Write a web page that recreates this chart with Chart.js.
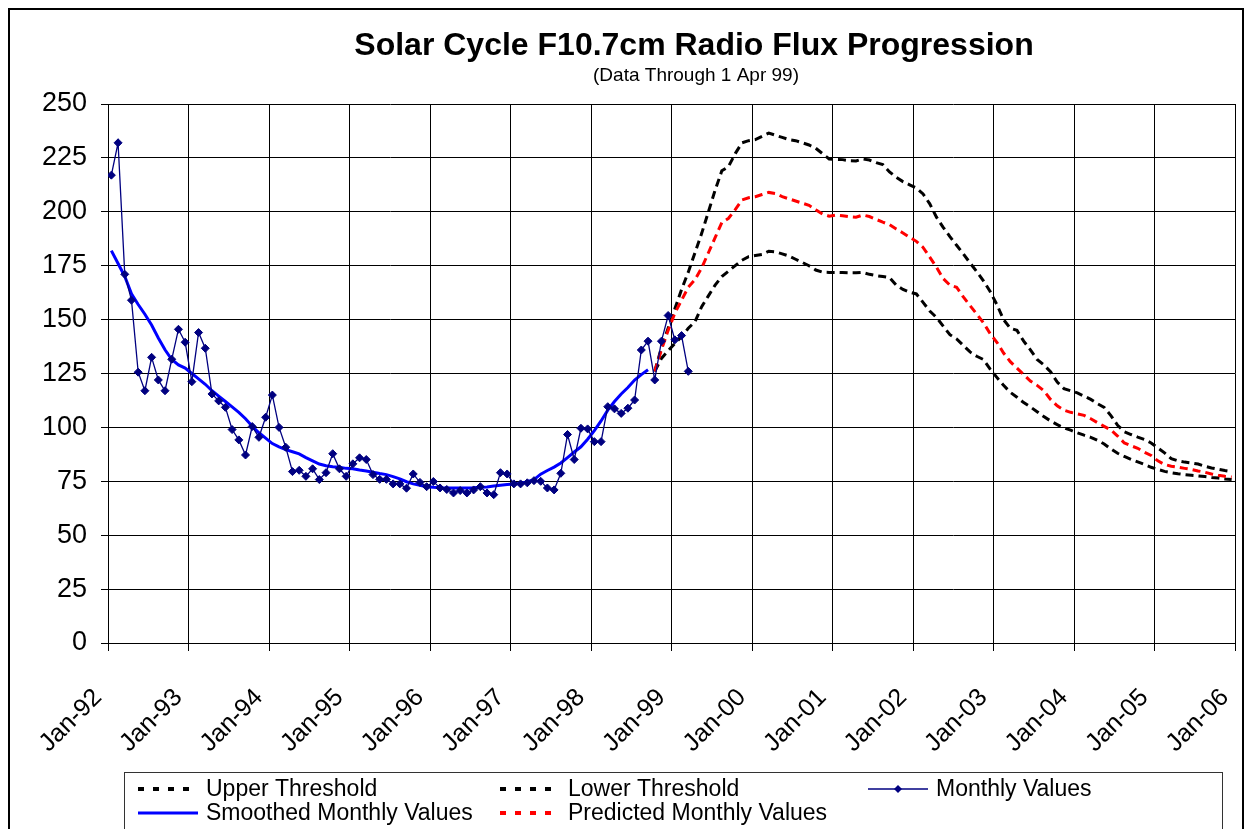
<!DOCTYPE html>
<html>
<head>
<meta charset="utf-8">
<title>Solar Cycle F10.7cm Radio Flux Progression</title>
<script src="https://cdn.jsdelivr.net/npm/chart.js@4.4.1/dist/chart.umd.min.js"></script>
<style>
  html, body { margin: 0; padding: 0; background: #fff; }
  canvas { display: block; }
</style>
</head>
<body>
<canvas id="fluxChart" width="1249" height="829"></canvas>
<script>
// x values are months counted from Jan-92, points sit mid-month
const yearLabels = ['Jan-92', 'Jan-93', 'Jan-94', 'Jan-95', 'Jan-96', 'Jan-97', 'Jan-98', 'Jan-99',
                    'Jan-00', 'Jan-01', 'Jan-02', 'Jan-03', 'Jan-04', 'Jan-05', 'Jan-06'];

// Jan-92 .. Mar-99
const monthlyValues = [
    217, 232, 171, 159, 125.6, 117, 132.5, 122, 117, 131.6,
    145.5, 139.5, 121.2, 144, 136.7, 115.5, 112.3, 109.3, 99, 94.2,
    87.2, 100.4, 95.4, 104.7, 115, 100, 90.8, 79.5, 80.1, 77.3,
    80.8, 75.8, 79, 87.8, 80.8, 77.3, 83.1, 85.9, 85.1, 78.1,
    75.9, 75.9, 73.8, 73.8, 71.8, 78.4, 74.5, 72.5, 74.9, 71.9,
    71.2, 69.6, 70.7, 69.6, 71, 72.5, 69.6, 68.8, 79, 78.4,
    73.8, 73.8, 74.3, 75.3, 75, 71.9, 71, 78.7, 96.7, 85.1,
    99.6, 99.3, 93.4, 93.4, 109.6, 108.6, 106.5, 108.9, 112.7, 135.9,
    140, 122, 140, 151.9, 140.6, 142.6, 126
];

// Jan-92 .. Sep-98
const smoothedValues = [
    182, 176, 170, 162, 157, 152.5, 147.5, 141.5, 136, 131.5,
    129, 127.5, 125, 122.5, 120, 117, 114.5, 112, 109.5, 107,
    104, 100.5, 97.5, 95, 92.5, 91, 89.7, 88.7, 87.7, 86,
    84.5, 83, 82.2, 81.8, 81.5, 81, 80.8, 80.2, 79.8, 79.2,
    78.6, 78.1, 77.2, 76.1, 74.8, 73.8, 73.2, 72.5, 72.2, 72,
    71.9, 71.9, 71.9, 71.9, 72, 72.2, 72.4, 72.8, 73.2, 73.5,
    73.7, 74, 74.8, 75.8, 78.3, 80, 81.6, 83.5, 86, 88.6,
    91, 94.5, 98.5, 103, 108, 112, 115.5, 118.5, 122, 124.5,
    126.7
];

// forecasts run Oct-98 .. Dec-05
const forecastStart = 81;

const upperThreshold = [
    126, 137, 146, 155, 164, 172, 181, 190, 200, 210,
    219, 221, 227, 232, 233, 233.5, 235, 236.5, 235.5, 234.5,
    233.5, 233, 232, 231, 229.5, 227, 224.5, 224.3, 224.2, 223.7,
    223.6, 224.5, 224, 222.8, 221.9, 218.5, 216, 214, 212.5, 211,
    208.3, 203.7, 197.5, 192.8, 188.5, 184.5, 180.5, 176.3, 172.3, 168,
    163, 157, 150, 146, 145, 140, 136, 131.5, 129, 125.8,
    121, 118, 117, 116, 114.5, 113, 111, 109.3, 105.5, 101,
    98, 96.7, 95.5, 94.4, 92.8, 90.5, 88.2, 85.5, 84.5, 83.9,
    83.5, 83, 82, 81.2, 80.6, 80, 79.5
];

const predictedValues = [
    126, 136, 145, 153, 159, 165, 168.5, 174, 181, 188,
    195, 197, 201, 205.5, 206.5, 207, 208, 209, 208.5, 207,
    206, 205, 204, 203, 201, 199, 198, 198.5, 198.2, 197.7,
    197.5, 198.5, 197.8, 196.5, 195.2, 194, 192, 190.2, 188.2, 186.3,
    183.5, 179, 174.3, 169, 166, 165, 160.5, 156.5, 152.6, 148.5,
    143.5, 139.5, 134.5, 130.5, 127.5, 124.5, 121.5, 119.5, 117, 113,
    110, 108, 107, 106.3, 105.6, 104, 102.2, 100.5, 98.8, 96,
    92.8, 91.5, 90.3, 88.5, 87, 84.5, 82.8, 82, 81.5, 81,
    80.5, 79.8, 79.2, 78.4, 77.8, 77.3, 77
];

const lowerThreshold = [
    126, 132, 135.5, 139, 142, 146, 149, 156, 161, 166,
    170, 172.5, 175, 177.5, 179.2, 179.7, 180.2, 181.7, 181.4, 180.5,
    179.5, 178, 176.5, 175, 173, 172, 171.9, 171.9, 171.8, 171.7,
    171.7, 171.9, 171, 170.4, 170, 169.5, 166, 164, 162.7, 161.9,
    158, 154, 151, 147, 143, 141, 138, 135, 133, 131.5,
    127, 123.2, 119.5, 116.3, 114, 111.5, 109.5, 107.3, 105, 103,
    101.3, 99.8, 98.7, 97.5, 96.4, 95.4, 94, 92.3, 90, 88,
    86.5, 85.2, 84, 82.8, 81.5, 80.5, 79.6, 79, 78.5, 78.1,
    77.8, 77.5, 77.2, 76.8, 76.5, 76.1, 75.8
];

const FONT = "'Liberation Sans', Arial, sans-serif";

function toPoints(values, startMonth) {
    return values.map((v, i) => ({ x: startMonth + i + 0.5, y: v }));
}

// legend slots: [label, column, row]
const legendSlots = [
    ['Upper Threshold', 0, 0],
    ['Lower Threshold', 1, 0],
    ['Monthly Values', 2, 0],
    ['Smoothed Monthly Values', 0, 1],
    ['Predicted Monthly Values', 1, 1]
];

const framePlugin = {
    id: 'frame',
    beforeDraw(chart) {
        const c = chart.ctx;
        c.save();
        c.fillStyle = '#fff';
        c.fillRect(0, 0, chart.width, chart.height);
        c.restore();
    },
    afterDraw(chart) {
        const c = chart.ctx;
        c.save();
        // outer border
        c.strokeStyle = '#000';
        c.lineWidth = 2;
        c.strokeRect(9, 9, 1234, 840);

        // title + subtitle
        c.fillStyle = '#000';
        c.textAlign = 'center';
        c.textBaseline = 'alphabetic';
        c.font = 'bold 32px ' + FONT;
        c.fillText('Solar Cycle F10.7cm Radio Flux Progression', 694, 55);
        c.font = '19px ' + FONT;
        c.fillText('(Data Through 1 Apr 99)', 696, 81);

        // legend box
        c.lineWidth = 1;
        c.strokeStyle = '#333';
        c.strokeRect(124.5, 772.5, 1098, 80);

        const colX = [138, 500, 868];
        const rowY = [789, 813];
        c.font = '23px ' + FONT;
        c.textAlign = 'left';
        c.textBaseline = 'middle';
        legendSlots.forEach(([label, col, row]) => {
            const ds = chart.data.datasets.find(d => d.label === label);
            const x = colX[col], y = rowY[row];
            c.save();
            c.strokeStyle = ds.borderColor;
            if (ds.borderDash && ds.borderDash.length) {
                c.lineWidth = 4;
                c.setLineDash([6, 9]);
            } else {
                c.lineWidth = ds.borderWidth;
            }
            c.beginPath();
            c.moveTo(x, y);
            c.lineTo(x + 60, y);
            c.stroke();
            if (ds.pointRadius) {
                c.fillStyle = ds.pointBackgroundColor;
                c.beginPath();
                c.moveTo(x + 30, y - 4);
                c.lineTo(x + 34, y);
                c.lineTo(x + 30, y + 4);
                c.lineTo(x + 26, y);
                c.closePath();
                c.fill();
            }
            c.restore();
            c.fillStyle = '#000';
            c.fillText(label, x + 68, y + 1);
        });
        c.restore();
    }
};

const ctx = document.getElementById('fluxChart').getContext('2d');
const fluxChart = new Chart(ctx, {
    type: 'line',
    data: {
        datasets: [
            {
                label: 'Monthly Values',
                data: toPoints(monthlyValues, 0),
                borderColor: '#000080',
                borderWidth: 1.3,
                pointStyle: 'rectRot',
                pointRadius: 4,
                pointBackgroundColor: '#000080',
                pointBorderColor: '#000080',
                pointBorderWidth: 1
            },
            {
                label: 'Smoothed Monthly Values',
                data: toPoints(smoothedValues, 0),
                borderColor: '#0000ff',
                borderWidth: 3,
                pointRadius: 0
            },
            {
                label: 'Predicted Monthly Values',
                data: toPoints(predictedValues, forecastStart),
                borderColor: '#ff0000',
                borderWidth: 3,
                borderDash: [8, 5],
                pointRadius: 0
            },
            {
                label: 'Upper Threshold',
                data: toPoints(upperThreshold, forecastStart),
                borderColor: '#000',
                borderWidth: 3,
                borderDash: [8, 5],
                pointRadius: 0
            },
            {
                label: 'Lower Threshold',
                data: toPoints(lowerThreshold, forecastStart),
                borderColor: '#000',
                borderWidth: 3,
                borderDash: [8, 5],
                pointRadius: 0
            }
        ]
    },
    options: {
        responsive: false,
        animation: false,
        devicePixelRatio: 1,
        layout: { padding: { top: 104, right: 14, left: 0, bottom: 0 } },
        elements: { line: { tension: 0 } },
        plugins: {
            legend: { display: false },
            tooltip: { enabled: false }
        },
        scales: {
            x: {
                type: 'linear',
                min: 0,
                max: 168,
                afterFit(scale) {
                    scale.height = 186;
                    scale.paddingLeft = 0;
                    scale.paddingRight = 0;
                },
                ticks: {
                    stepSize: 12,
                    autoSkip: false,
                    minRotation: 45,
                    maxRotation: 45,
                    padding: 32,
                    labelOffset: -10,
                    color: '#000',
                    font: { family: FONT, size: 25 },
                    callback: (value) => yearLabels[value / 12]
                },
                grid: { color: '#000', lineWidth: 1, tickLength: 8 },
                border: { color: '#000', width: 1 }
            },
            y: {
                min: 0,
                max: 250,
                afterFit(scale) {
                    scale.width = 108;
                    scale.paddingTop = 0;
                    scale.paddingBottom = 0;
                },
                ticks: {
                    stepSize: 25,
                    padding: 14,
                    color: '#000',
                    font: { family: FONT, size: 27 }
                },
                grid: { color: '#000', lineWidth: 1, tickLength: 7 },
                border: { color: '#000', width: 1 }
            }
        }
    },
    plugins: [framePlugin]
});
</script>
</body>
</html>
